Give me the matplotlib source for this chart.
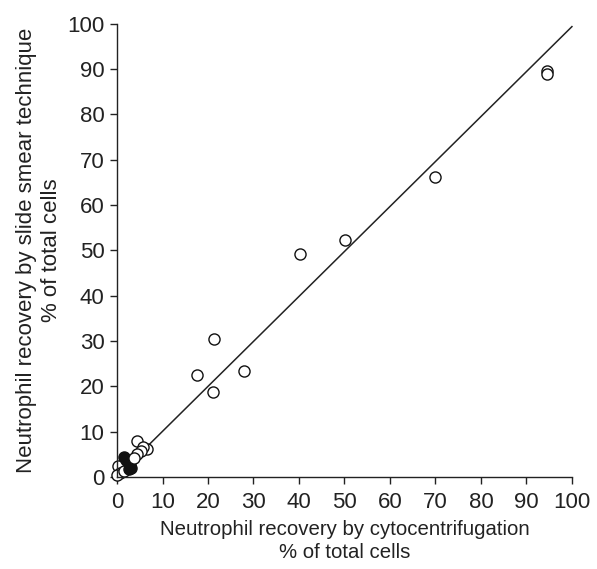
import numpy as np
import matplotlib.pyplot as plt

plt.rcParams['font.family'] = ['Liberation Sans', 'DejaVu Sans']

# open circles: (cytocentrifugation, slide smear)
openX = [94.5, 94.5, 70.0, 50.1, 40.2, 21.4, 17.5, 27.9, 21.2, 4.3, 6.5, 5.8, 5.2, 4.5, 0.3, 0.6, 0.1, 1.6]
openY = [89.7, 89.0, 66.3, 52.3, 49.2, 30.5, 22.4, 23.4, 18.8, 8.0, 6.1, 6.5, 5.6, 5.0, 2.4, 0.9, 0.3, 1.2]
# filled circles
fillX = [1.6, 2.0, 2.4, 2.8, 3.0, 2.6]
fillY = [4.3, 3.8, 3.2, 2.6, 2.0, 1.8]
# open circle lying over the filled group
topX = [3.7]
topY = [4.2]
# fitted line
lineX = [2.0, 100.0]
lineY = [2.1, 99.4]

fig = plt.figure(figsize=(5.97, 5.69), dpi=100)
ax = fig.add_axes([0.196, 0.162, 0.762, 0.796])

ax.plot(lineX, lineY, color='#222222', lw=1.1, clip_on=False, zorder=1)
ax.plot(openX, openY, 'o', ms=8, mfc='white', mec='#111111', mew=1.0, clip_on=False, zorder=2)
ax.plot(fillX, fillY, 'o', ms=8, mfc='#111111', mec='#111111', mew=1.0, clip_on=False, zorder=3)
ax.plot(topX, topY, 'o', ms=8, mfc='white', mec='#111111', mew=1.0, clip_on=False, zorder=4)

ax.set_xlim(0, 100)
ax.set_ylim(0, 100)
ax.set_xticks(np.arange(0, 101, 10))
ax.set_yticks(np.arange(0, 101, 10))
ax.spines['top'].set_visible(False)
ax.spines['right'].set_visible(False)
for s in ['left', 'bottom']:
    ax.spines[s].set_linewidth(1.0)
    ax.spines[s].set_color('#222222')
ax.tick_params(direction='out', length=5, width=1.0, labelsize=16, color='#222222', labelcolor='#222222')
ax.tick_params(axis='x', pad=6)
ax.tick_params(axis='y', pad=4)

ax.set_xlabel("Neutrophil recovery by cytocentrifugation\n% of total cells", fontsize=14.7, color='#222222', labelpad=5, linespacing=1.25)
ax.set_ylabel("Neutrophil recovery by slide smear technique\n% of total cells", fontsize=16, color='#222222', labelpad=4, linespacing=1.25)

plt.savefig("out.png", dpi=100)
